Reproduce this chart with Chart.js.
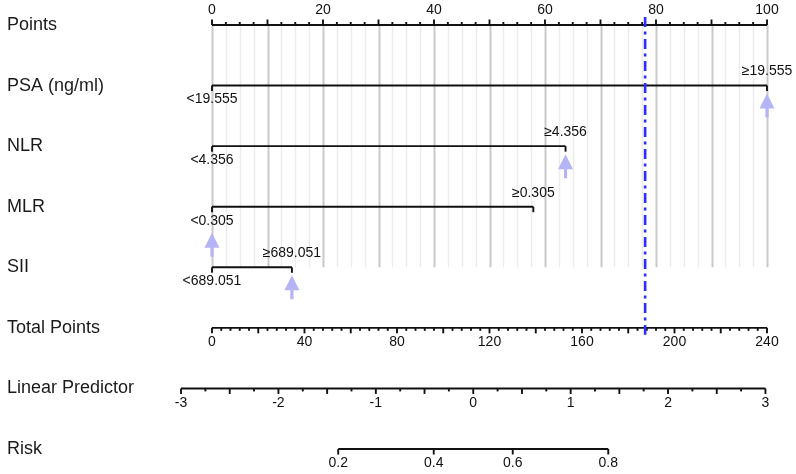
<!DOCTYPE html>
<html>
<head>
<meta charset="utf-8">
<title>Nomogram</title>
<script src="https://cdn.jsdelivr.net/npm/chart.js@4.4.1/dist/chart.umd.min.js"></script>
<style>
  body { margin: 0; background: #fff; }
  #wrap { width: 796px; height: 474px; position: relative; }
</style>
</head>
<body>
<div id="wrap"><canvas id="nomoChart"></canvas></div>
<script>
// rows of the nomogram, top to bottom
const rowNames = ['Points', 'PSA (ng/ml)', 'NLR', 'MLR', 'SII', 'Total Points', 'Linear Predictor', 'Risk'];

// predictors
const varNames = ['PSA (ng/ml)', 'NLR', 'MLR', 'SII'];
const lowLabels = ['<19.555', '<4.356', '<0.305', '<689.051'];
const highLabels = ['\u226519.555', '\u22654.356', '\u22650.305', '\u2265689.051'];
const highPoints = [100, 63.7, 57.9, 14.4];
// points of the patient marked with arrows
const selectedPoints = [100, 63.7, 0, 14.4];

// axis ticks
const pointLabels = [0, 20, 40, 60, 80, 100];
const totalLabels = [0, 40, 80, 120, 160, 200, 240];
const lpLabels = [-3, -2, -1, 0, 1, 2, 3];
const riskLabels = [0.2, 0.4, 0.6, 0.8];

const totalMax = 240;
const lpAtTotalEnds = [-2.682, 3.016]; // linear predictor at total points 0 and 240
const markerTotal = 187.3;             // dash-dot line

function totalToPts(t) { return t * 100 / totalMax; }
function lpToTotal(lp) { return (lp - lpAtTotalEnds[0]) / (lpAtTotalEnds[1] - lpAtTotalEnds[0]) * totalMax; }
function riskToLp(p) { return Math.log(p / (1 - p)); }
function range(a, b, step) {
    const out = [];
    for (let v = a; v <= b + 1e-9; v += step) out.push(Math.round(v * 1000) / 1000);
    return out;
}

const textFont = '"Liberation Sans", Arial, sans-serif';

const nomogramPlugin = {
    id: 'nomogram',
    beforeDatasetsDraw(chart) {
        const ctx = chart.ctx;
        const xs = chart.scales.x, ys = chart.scales.y;
        const yTop = ys.getPixelForValue(0), ySii = ys.getPixelForValue(4);
        ctx.save();
        // vertical guide lines
        range(0, 100, 2.5).forEach(v => {
            const x = Math.round(xs.getPixelForValue(v)) + 0.5;
            const major = v % 10 === 0;
            ctx.strokeStyle = major ? '#c9c9c9' : '#ececec';
            ctx.lineWidth = major ? 2 : 1.5;
            ctx.beginPath();
            ctx.moveTo(x, yTop);
            ctx.lineTo(x, ySii);
            ctx.stroke();
        });
        ctx.restore();
    },
    afterDatasetsDraw(chart) {
        const ctx = chart.ctx;
        const xs = chart.scales.x, ys = chart.scales.y;
        const px = v => xs.getPixelForValue(v);
        ctx.save();
        ctx.strokeStyle = '#111';
        ctx.fillStyle = '#111';
        ctx.lineWidth = 1.9;
        ctx.font = '14px ' + textFont;
        ctx.textAlign = 'center';
        ctx.textBaseline = 'middle';

        function axis(row, ticks, toPts, labels, up) {
            const y = ys.getPixelForValue(row);
            const dir = up ? -1 : 1;
            ctx.beginPath();
            ctx.moveTo(toPts(ticks[0][0]) , y);
            ctx.lineTo(toPts(ticks[ticks.length - 1][0]), y);
            ctx.stroke();
            ticks.forEach(([v, len]) => {
                const x = toPts(v);
                ctx.beginPath();
                ctx.moveTo(x, y);
                ctx.lineTo(x, y + dir * len);
                ctx.stroke();
            });
            labels.forEach(([v, txt]) => {
                ctx.fillText(txt, toPts(v), y + dir * 14.5);
            });
        }

        // Points
        axis(0, range(0, 100, 2.5).map(v => [v, v % 10 === 0 ? 5.5 : 3]),
            v => px(v), pointLabels.map(v => [v, String(v)]), true);
        // Total Points
        axis(5, range(0, 240, 4).map(v => [v, v % 20 === 0 ? 5.5 : 3]),
            v => px(totalToPts(v)), totalLabels.map(v => [v, String(v)]), false);
        // Linear Predictor
        axis(6, range(-3, 3, 0.25).map(v => [v, Math.abs(v * 2 - Math.round(v * 2)) < 1e-6 ? 5.5 : 3]),
            v => px(totalToPts(lpToTotal(v))), lpLabels.map(v => [v, String(v)]), false);
        // Risk
        axis(7, riskLabels.map(v => [v, 5.5]),
            v => px(totalToPts(lpToTotal(riskToLp(v)))), riskLabels.map(v => [v, String(v)]), false);

        // predictor end ticks, labels and arrows
        varNames.forEach((name, i) => {
            const y = ys.getPixelForValue(i + 1);
            [0, highPoints[i]].forEach(v => {
                ctx.beginPath();
                ctx.moveTo(px(v), y);
                ctx.lineTo(px(v), y + 5.5);
                ctx.stroke();
            });
            ctx.fillStyle = '#111';
            ctx.fillText(lowLabels[i], px(0), y + 14);
            ctx.fillText(highLabels[i], px(highPoints[i]), y - 14);

            const ax = px(selectedPoints[i]);
            const tip = y + (selectedPoints[i] === 0 ? 26 : 8);
            ctx.fillStyle = '#b5b5f5';
            ctx.beginPath();
            ctx.moveTo(ax, tip);
            ctx.lineTo(ax + 7.5, tip + 15);
            ctx.lineTo(ax + 1.6, tip + 15);
            ctx.lineTo(ax + 1.6, tip + 24);
            ctx.lineTo(ax - 1.6, tip + 24);
            ctx.lineTo(ax - 1.6, tip + 15);
            ctx.lineTo(ax - 7.5, tip + 15);
            ctx.closePath();
            ctx.fill();
        });

        // dash-dot marker line at the total score
        const mx = px(totalToPts(markerTotal));
        ctx.strokeStyle = '#2e2eff';
        ctx.lineWidth = 2.6;
        ctx.setLineDash([10, 4.5, 3, 4.5]);
        ctx.beginPath();
        ctx.moveTo(mx, ys.getPixelForValue(0) - 8);
        ctx.lineTo(mx, ys.getPixelForValue(5) + 7);
        ctx.stroke();
        ctx.restore();
    }
};

document.addEventListener('DOMContentLoaded', function () {
    const ctx = document.getElementById('nomoChart').getContext('2d');
    const datasets = varNames.map((name, i) => ({
        label: name,
        data: [{ x: 0, y: name }, { x: highPoints[i], y: name }],
        borderColor: '#111',
        borderWidth: 1.9,
        pointRadius: 0,
        fill: false
    }));

    const config = {
        type: 'line',
        data: { labels: rowNames, datasets: datasets },
        options: {
            responsive: true,
            maintainAspectRatio: false,
            animation: false,
            layout: { padding: { left: 7, right: 29, top: 25, bottom: 25 } },
            plugins: { legend: { display: false }, tooltip: { enabled: false } },
            scales: {
                x: { type: 'linear', min: 0, max: 100, display: false },
                y: {
                    type: 'category',
                    labels: rowNames,
                    offset: false,
                    grid: { display: false },
                    border: { display: false },
                    ticks: {
                        crossAlign: 'far',
                        color: '#1a1a1a',
                        font: { family: textFont, size: 18 }
                    },
                    afterFit: function (scale) { scale.width = 205; }
                }
            }
        },
        plugins: [nomogramPlugin]
    };

    var nomoChart = new Chart(ctx, config);
});
</script>
</body>
</html>
